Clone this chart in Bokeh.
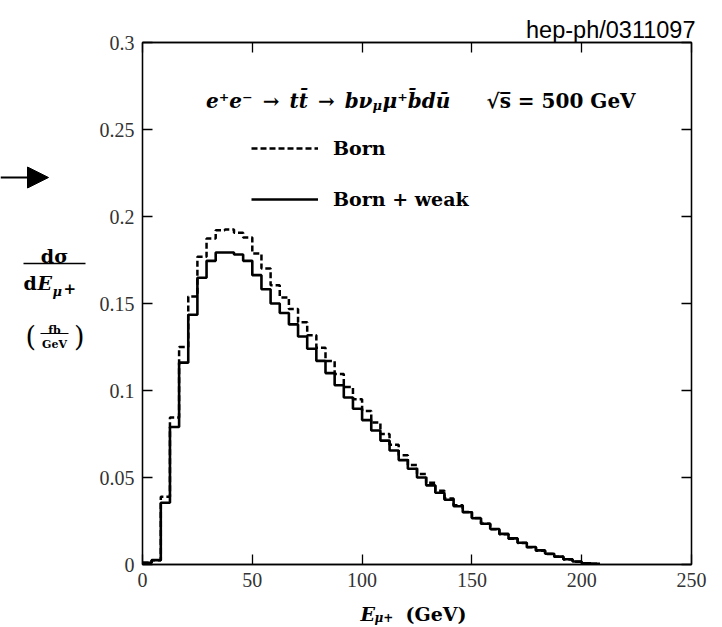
import numpy as np
from bokeh.plotting import figure
from bokeh.layouts import row, column
from bokeh.models import (Range1d, LinearAxis, FixedTicker, CustomJSTickFormatter,
                          Label, Arrow, NormalHead, Legend, LegendItem)
from bokeh.embed import file_html
from bokeh.resources import INLINE

# ---------------- data ----------------
bin_width = 250.0 / 60.0
born = [0.001, 0.0025, 0.039, 0.0845, 0.125, 0.154, 0.1768, 0.1873, 0.1921, 0.1925,
        0.1906, 0.1879, 0.1787, 0.1701, 0.1605, 0.1535, 0.1468, 0.1392, 0.1318, 0.1245,
        0.1170, 0.1095, 0.1020, 0.0950, 0.0882, 0.0816, 0.0750, 0.0688, 0.0628, 0.0572,
        0.0520, 0.0470, 0.0424, 0.0380, 0.0340, 0.0302, 0.0267, 0.0234, 0.0203, 0.0174,
        0.0148, 0.0123, 0.0099, 0.0079, 0.0060, 0.0044, 0.0029, 0.0016, 0.0007, 0.0004]
born_weak = [0.001, 0.0025, 0.0355, 0.079, 0.116, 0.1435, 0.1648, 0.1745, 0.1793, 0.1793,
             0.1782, 0.1745, 0.1663, 0.1582, 0.1500, 0.1445, 0.1380, 0.1310, 0.1240, 0.1170,
             0.1100, 0.1030, 0.0960, 0.0895, 0.0830, 0.0770, 0.0712, 0.0655, 0.0600, 0.0550,
             0.0500, 0.0455, 0.0412, 0.0372, 0.0335, 0.0300, 0.0266, 0.0234, 0.0204, 0.0176,
             0.0150, 0.0125, 0.0101, 0.0081, 0.0062, 0.0045, 0.0030, 0.0017, 0.0007, 0.0004]
x_ticks = [0, 50, 100, 150, 200, 250]
y_ticks = [0, 0.05, 0.1, 0.15, 0.2, 0.25, 0.3]

edges = np.arange(len(born) + 1) * bin_width
born_y = np.append(born, born[-1])
weak_y = np.append(born_weak, born_weak[-1])

SERIF = "DejaVu Serif"

# ---------------- page geometry ----------------
PAGE_W, PAGE_H = 722, 627
LEFT_W = 90                     # strip holding the y-axis label and arrow
XLAB_H = 30                     # strip holding the x-axis label
FRAME_L, FRAME_R, FRAME_T, FRAME_B = 142, 691, 42, 564
X0, X1, Y0, Y1 = 0, 250, 0, 0.3

MAIN_W = PAGE_W - LEFT_W
MAIN_H = PAGE_H - XLAB_H

main = figure(width=MAIN_W, height=MAIN_H, output_backend="svg", toolbar_location=None,
              x_range=Range1d(X0, X1), y_range=Range1d(Y0, Y1),
              min_border_left=FRAME_L - LEFT_W, min_border_right=PAGE_W - FRAME_R,
              min_border_top=FRAME_T, min_border_bottom=MAIN_H - FRAME_B,
              x_axis_location=None, y_axis_location=None,
              title="hep-ph/0311097")
main.grid.visible = False
main.outline_line_color = "black"
main.outline_line_width = 1.3
main.background_fill_color = "white"
main.border_fill_color = "white"
main.title.align = "right"
main.title.text_font = "Liberation Sans"
main.title.text_font_size = "23.5px"
main.title.text_font_style = "normal"
main.title.text_color = "black"
main.title.standoff = 0
main.title.offset = -4

fmt = CustomJSTickFormatter(code="return String(Math.round(tick*100)/100);")

def make_axis(ticks, show_labels):
    ax = LinearAxis(ticker=FixedTicker(ticks=ticks))
    ax.major_tick_in = 10
    ax.major_tick_out = 0
    ax.minor_tick_in = 0
    ax.minor_tick_out = 0
    ax.major_tick_line_color = "black"
    ax.major_tick_line_width = 1.3
    ax.axis_line_color = "black"
    ax.axis_line_width = 1.3
    ax.formatter = fmt
    ax.major_label_text_font = "Liberation Serif"
    if show_labels:
        ax.major_label_text_font_size = "20px"
        ax.major_label_text_color = "#333333"
        ax.major_label_standoff = 8
    else:
        ax.major_label_text_font_size = "0px"
        ax.major_label_text_color = None
        ax.major_label_standoff = 0
    return ax

main.add_layout(make_axis(x_ticks, True), "below")
main.add_layout(make_axis(x_ticks, False), "above")
main.add_layout(make_axis(y_ticks, True), "left")
main.add_layout(make_axis(y_ticks, False), "right")

r_born = main.step(x=edges, y=born_y, mode="after", line_color="black",
                   line_width=2.5, line_dash="6 3")
r_weak = main.step(x=edges, y=weak_y, mode="after", line_color="black", line_width=2.6)

legend = Legend(items=[LegendItem(label="Born", renderers=[r_born]),
                       LegendItem(label="Born + weak", renderers=[r_weak])],
                location=(109, 353), orientation="vertical",
                glyph_width=67, glyph_height=24, label_height=24, spacing=27,
                label_standoff=15, padding=0, margin=0,
                border_line_color=None, background_fill_alpha=0,
                label_text_font=SERIF, label_text_font_style="bold",
                label_text_font_size="19px", label_text_baseline="middle",
                label_text_color="black")
main.add_layout(legend, "center")

XS = (FRAME_R - FRAME_L) / (X1 - X0)
YS = (FRAME_B - FRAME_T) / (Y1 - Y0)

def dx(px):
    return X0 + (px - FRAME_L) / XS

def dy(py):
    return Y0 + (FRAME_B - py) / YS

def lab(fig, text, x, y, size, style="bold", align="left", font=SERIF):
    fig.add_layout(Label(x=x, y=y, text=text, text_font=font,
                         text_font_size=f"{size}px", text_font_style=style,
                         text_align=align, text_baseline="alphabetic", text_color="black"))

SP = "\u2002"   # en space (not collapsed in SVG)

# reaction title inside the frame
lab(main, "e\u207ae\u207b" + SP + "\u2192" + SP + "tt\u0304" + SP + "\u2192" + SP + "b\u03bd",
    dx(372), dy(100), 20, style="bold italic", align="right")
lab(main, "\u03bc", dx(372), dy(105), 13, style="bold italic")
lab(main, "\u03bc\u207ab\u0304d\u016b", dx(382), dy(100), 20, style="bold italic")
lab(main, "\u221as\u0305 = 500 GeV", dx(486), dy(100), 20)

def strip(w, h, xr, yr):
    f = figure(width=w, height=h, output_backend="svg", toolbar_location=None,
               x_range=Range1d(*xr), y_range=Range1d(*yr), title=None,
               min_border=0, min_border_left=0, min_border_right=0,
               min_border_top=0, min_border_bottom=0,
               x_axis_location=None, y_axis_location=None)
    f.grid.visible = False
    f.outline_line_color = None
    f.background_fill_color = "white"
    f.border_fill_color = "white"
    return f

# ---------------- left strip: y label + arrow (page pixel coordinates) ----------------
left = strip(LEFT_W, PAGE_H, (0, LEFT_W), (PAGE_H, 0))

def bar(fig, x0, x1, y, w=1.3):
    fig.add_layout(Arrow(end=None, x_start=x0, y_start=y, x_end=x1, y_end=y,
                         line_color="black", line_width=w))

lab(left, "d\u03c3", 54, 255, 19, align="center")
bar(left, 23, 85, 263)
lab(left, "d", 23, 282, 19)
lab(left, "E", 37, 282, 19, style="bold italic")
lab(left, "\u03bc", 52, 291, 13, style="bold italic")
lab(left, "+", 63, 288, 15)
lab(left, "(", 25, 336, 27, style="normal")
lab(left, ")", 84, 336, 27, style="normal", align="right")
lab(left, "fb", 54, 330, 11, align="center")
bar(left, 40, 68, 333, w=1.0)
lab(left, "GeV", 54, 344, 11, align="center")

left.add_layout(Arrow(end=NormalHead(size=21, fill_color="black", line_color="black"),
                      x_start=0, y_start=177, x_end=48, y_end=177,
                      line_color="black", line_width=2))

# ---------------- bottom strip: x label ----------------
# the column aligns this strip's frame with the main frame (page x 142..691)
xlab = strip(MAIN_W, XLAB_H, (FRAME_L, FRAME_R), (PAGE_H, PAGE_H - XLAB_H))

lab(xlab, "E", 360, 613, 19, style="bold italic")
lab(xlab, "\u03bc+", 374, 617, 12, style="bold italic")
lab(xlab, "(GeV)", 405, 613, 19)

layout = row(left, column(main, xlab))
open("out.html", "w").write(file_html(layout, INLINE))
